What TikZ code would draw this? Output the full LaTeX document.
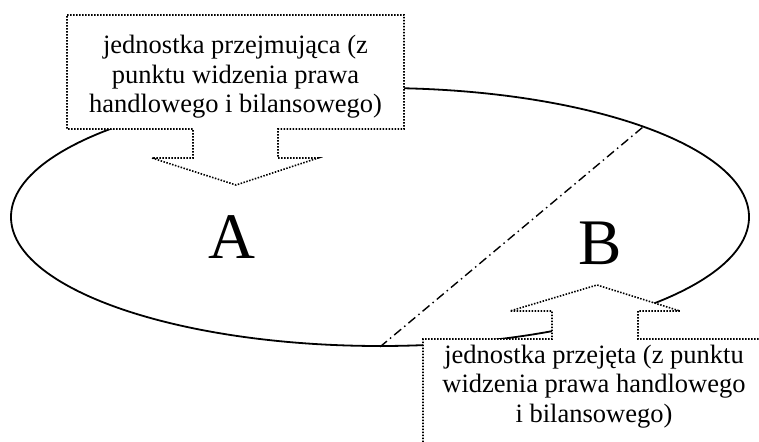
\documentclass[tikz,border=0pt]{standalone}
\usepackage{fontspec}
\setmainfont{Liberation Serif}
\usetikzlibrary{shapes.geometric}

\tikzset{
  oval/.style={draw, ellipse, line width=1.8pt, minimum width=738pt, minimum height=258pt, inner sep=0pt},
  divider/.style={line width=1.4pt, dash pattern=on 9pt off 4pt on 1.5pt off 4pt},
  callout/.style={draw, fill=white, line width=1.6pt, dash pattern=on 1.5pt off 1.5pt},
  calltext/.style={font=\fontsize{26.5}{29.5}\selectfont, align=center, inner sep=0pt, anchor=base},
  letter/.style={font=\fontsize{65}{70}\selectfont, inner sep=0pt, anchor=base}
}

\begin{document}
\begin{tikzpicture}[x=1pt, y=-1pt]
  \useasboundingbox (0,0) rectangle (759,441);
  \begin{scope}
    \clip (0,0) rectangle (759,441);

    % the company as a whole
    \node[oval] (firm) at (380,217) {};
    \draw[divider] (firm.south) -- (firm.19.3);

    % part letters
    \node[letter] (partA) at (232,258) {A};
    \node[letter] (partB) at (600,264) {B};

    % upper callout pointing down into part A
    \draw[callout] (67,15) -- (404,15) -- (404,129) -- (278,129) -- (278,158)
      -- (318,158) -- (236,185) -- (152,158) -- (193,158) -- (193,129)
      -- (67,129) -- cycle;
    % anchored on the baseline of the last line
    \node[calltext] (acq) at (235.5,113)
      {jednostka przejmująca (z\\punktu widzenia prawa\\handlowego i bilansowego)};

    % lower callout pointing up into part B
    \draw[callout] (423,460) -- (423,339) -- (552,339) -- (552,311) -- (510,311)
      -- (597,285) -- (680,311) -- (638,311) -- (638,339) -- (775,339)
      -- (775,460) -- cycle;
    \node[calltext] (tgt) at (594,422)
      {jednostka przejęta (z punktu\\widzenia prawa handlowego\\i bilansowego)};
  \end{scope}
\end{tikzpicture}
\end{document}
